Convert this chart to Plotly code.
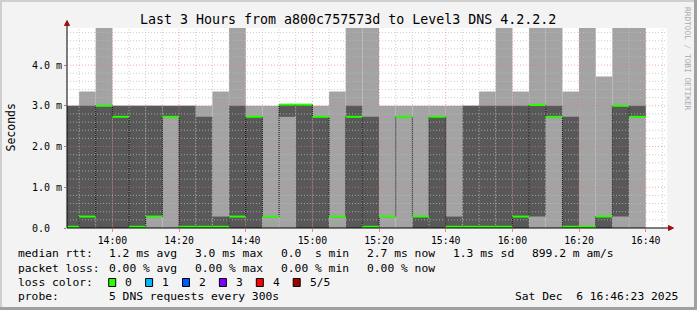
import pandas as pd
import plotly.graph_objects as go

DAY = "2025-12-06 "
X_START = DAY + "13:46:23"
X_END = DAY + "16:46:23"
Y_MAX = 4.91  # ms

# 5-minute sample slots (start times)
slot_start = ["13:45", "13:50", "13:55", "14:00", "14:05", "14:10", "14:15",
              "14:20", "14:25", "14:30", "14:35", "14:40", "14:45", "14:50",
              "14:55", "15:00", "15:05", "15:10", "15:15", "15:20", "15:25",
              "15:30", "15:35", "15:40", "15:45", "15:50", "15:55", "16:00",
              "16:05", "16:10", "16:15", "16:20", "16:25", "16:30", "16:35"]

# sorted ping rtts per slot (ms); 6.0 = beyond top of chart
ping1 = [0.0] * 35
ping2 = [0.0, 0.0, 0.0, 0.0, 0.0, 0.28, 2.73, 0.0, 0.0, 0.0, 0.0, 0.0, 0.28, 2.73,
         0.0, 0.0, 0.28, 0.0, 0.0, 0.28, 2.73, 0.0, 0.0, 0.0, 0.0, 0.0, 0.0, 0.0,
         0.28, 2.73, 0.0, 0.03, 0.0, 0.28, 2.73]
median = [0.03, 0.28, 3.0, 2.73, 0.03, 0.28, 2.73, 0.03, 0.03, 0.03, 0.28, 2.73,
          0.28, 3.03, 3.03, 2.73, 0.28, 2.73, 0.03, 0.28, 2.73, 0.28, 2.73, 0.03,
          0.03, 0.03, 0.03, 0.28, 3.02, 2.73, 0.03, 0.03, 0.28, 3.0, 2.73]
ping4 = [3.0, 3.0, 3.0, 3.0, 3.0, 3.0, 3.0, 3.0, 2.73, 0.28, 3.0, 2.73, 0.28, 3.03,
         3.03, 2.73, 0.28, 3.0, 2.73, 0.28, 2.73, 0.28, 2.73, 0.28, 3.0, 3.0, 3.0,
         3.0, 3.02, 3.0, 2.73, 0.03, 0.28, 3.0, 3.0]
ping5 = [3.0, 3.35, 6.0, 3.0, 3.0, 3.0, 3.0, 3.0, 3.0, 3.35, 6.0, 3.0, 3.0, 3.03,
         3.03, 3.0, 3.35, 6.0, 6.0, 3.0, 3.0, 3.0, 3.0, 3.0, 3.0, 3.35, 6.0, 3.35,
         6.0, 6.0, 3.35, 6.0, 3.72, 6.0, 6.0]

x_ticks = ["14:00", "14:20", "14:40", "15:00", "15:20", "15:40", "16:00", "16:20", "16:40"]
y_ticks = [0, 1, 2, 3, 4]
y_ticktext = ["0.0\u00a0\u00a0", "1.0 m", "2.0 m", "3.0 m", "4.0 m"]

title = "Last 3 Hours from a800c757573d to Level3 DNS 4.2.2.2"
rtt_stats = ["1.2 ms avg", "3.0 ms max", "0.0\u00a0\u00a0s min", "2.7 ms now",
             "1.3 ms sd", "899.2 m am/s"]
loss_stats = ["0.00 % avg", "0.00 % max", "0.00 % min", "0.00 % now"]
loss_labels = ["0", "1", "2", "3", "4", "5/5"]
loss_colors = ["#26ff00", "#00b8ff", "#0059ff", "#7e00ff", "#ff0000", "#a10000"]
probe_text = "5 DNS requests every 300s"
stamp_text = "Sat Dec\u00a0\u00a06 16:46:23 2025"

# ---------------------------------------------------------------
FONT = "DejaVu Sans Mono"
DARK = "#585858"
LIGHT = "#a3a3a3"
GREEN = loss_colors[0]

starts = pd.to_datetime([DAY + s for s in slot_start])
step = pd.Timedelta(minutes=5)
centers = starts + step / 2
ends = starts + step

fig = go.Figure()

fig.add_trace(go.Bar(x=centers, y=[b - a for a, b in zip(ping1, ping5)], base=ping1,
                     width=300000, marker=dict(color=LIGHT, line=dict(width=0)),
                     hoverinfo="skip"))
fig.add_trace(go.Bar(x=centers, y=[b - a for a, b in zip(ping2, ping4)], base=ping2,
                     width=300000, marker=dict(color=DARK, line=dict(width=0)),
                     hoverinfo="skip"))

# grid drawn over smoke
x0 = pd.Timestamp(X_START)
x1 = pd.Timestamp(X_END)
vmin_x, vmaj_x = [], []
t = pd.Timestamp(DAY + "13:50")
while t <= x1:
    target = vmaj_x if t.minute % 20 == 0 else vmin_x
    target += [t, t, None]
    t += step
vmin_y = [0, Y_MAX, None] * (len(vmin_x) // 3)
vmaj_y = [0, Y_MAX, None] * (len(vmaj_x) // 3)
hmin_x, hmin_y, hmaj_x, hmaj_y = [], [], [], []
for k in range(1, 25):
    v = k * 0.2
    if k % 5 == 0:
        hmaj_x += [x0, x1, None]; hmaj_y += [v, v, None]
    else:
        hmin_x += [x0, x1, None]; hmin_y += [v, v, None]
MINOR = "rgba(190,190,190,0.75)"
MAJOR = "rgba(255,110,110,0.6)"
for gx, gy, col in [(vmin_x, vmin_y, MINOR), (hmin_x, hmin_y, MINOR),
                    (vmaj_x, vmaj_y, MAJOR), (hmaj_x, hmaj_y, MAJOR)]:
    fig.add_trace(go.Scatter(x=gx, y=gy, mode="lines", hoverinfo="skip",
                             line=dict(color=col, width=1, dash="1px,2px")))

# median step connectors (black dotted) and green median segments
fig.add_trace(go.Scatter(x=list(starts) + [ends[-1]], y=median + [median[-1]],
                         mode="lines", line=dict(color="black", width=1, dash="1px,1px",
                                                 shape="hv"), hoverinfo="skip"))
mx, my = [], []
for s, e, m in zip(starts, ends, median):
    mx += [max(s, x0), e, None]
    my += [m, m, None]
fig.add_trace(go.Scatter(x=mx, y=my, mode="lines", line=dict(color=GREEN, width=2),
                         hoverinfo="skip"))

# ---------------------------------------------------------------
W, H = 697, 310
PX0, PW, PY0, PH = 67, 600, 28, 200


def fx(px):
    return (px - PX0) / PW


def fy(py):
    return (PY0 + PH - py) / PH


shapes = []
# frame
shapes.append(dict(type="rect", xref="paper", yref="paper", x0=fx(0), x1=fx(W), y0=fy(0),
                   y1=fy(2), fillcolor="#cfcfcf", line=dict(width=0), layer="below"))
shapes.append(dict(type="rect", xref="paper", yref="paper", x0=fx(0), x1=fx(2), y0=fy(0),
                   y1=fy(H), fillcolor="#cfcfcf", line=dict(width=0), layer="below"))
shapes.append(dict(type="rect", xref="paper", yref="paper", x0=fx(W - 3), x1=fx(W), y0=fy(0),
                   y1=fy(H), fillcolor="#a0a0a0", line=dict(width=0), layer="below"))
shapes.append(dict(type="rect", xref="paper", yref="paper", x0=fx(0), x1=fx(W), y0=fy(H - 3),
                   y1=fy(H), fillcolor="#a0a0a0", line=dict(width=0), layer="below"))
# axes lines + arrows
shapes.append(dict(type="line", xref="paper", yref="paper", x0=fx(67), x1=fx(670),
                   y0=fy(228), y1=fy(228), line=dict(color="black", width=1)))
shapes.append(dict(type="line", xref="paper", yref="paper", x0=fx(67), x1=fx(67),
                   y0=fy(228), y1=fy(23), line=dict(color="black", width=1)))
shapes.append(dict(type="path", xref="paper", yref="paper",
                   path=f"M {fx(64.5)} {fy(25.5)} L {fx(69.5)} {fy(25.5)} L {fx(67)} {fy(20.5)} Z",
                   fillcolor="#a01010", line=dict(color="#a01010", width=1)))
shapes.append(dict(type="path", xref="paper", yref="paper",
                   path=f"M {fx(668.5)} {fy(225.5)} L {fx(668.5)} {fy(230.5)} L {fx(673.5)} {fy(228)} Z",
                   fillcolor="#a01010", line=dict(color="#a01010", width=1)))

ann = []


def text(s, px, py, size=11.3, anchor="left", color="#000000", angle=0):
    ann.append(dict(text=s, x=fx(px), y=fy(py), xref="paper", yref="paper",
                    xanchor=anchor, yanchor="middle", showarrow=False, textangle=angle,
                    font=dict(family=FONT, size=size, color=color)))


text(title, 348, 19, size=13.3, anchor="center")
text("Seconds", 10.5, 128, size=11.5, anchor="center", angle=-90)
text("RRDTOOL / TOBI OETIKER", 688, 59, size=7.8, anchor="center", color="#aaaaaa", angle=90)

L1, L2, L3, L4 = 254, 268, 282, 296
text("median rtt:", 16, L1)
for s, px in zip(rtt_stats, [107, 193, 279, 365, 451, 530]):
    text(s, px, L1)
text("packet loss:", 16, L2)
for s, px in zip(loss_stats, [107, 193, 279, 365]):
    text(s, px, L2)
text("loss color:", 16, L3)
for i, (lab, col) in enumerate(zip(loss_labels, loss_colors)):
    bx = 108.7 + 36.9 * i
    shapes.append(dict(type="rect", xref="paper", yref="paper", x0=fx(bx), x1=fx(bx + 7),
                       y0=fy(286.5), y1=fy(278.5), fillcolor=col,
                       line=dict(color="black", width=1)))
    text(lab, bx + 14.3, L3)
text("probe:", 16, L4)
text(probe_text, 107, L4)
text(stamp_text, 513, L4)

fig.update_layout(
    width=W, height=H, autosize=False,
    margin=dict(l=PX0, r=W - PX0 - PW, t=PY0, b=H - PY0 - PH, pad=0),
    paper_bgcolor="#f3f3f3", plot_bgcolor="#ffffff",
    barmode="overlay", showlegend=False,
    shapes=shapes, annotations=ann,
    font=dict(family=FONT, color="#000000"),
    xaxis=dict(type="date", range=[X_START, X_END], showgrid=False, zeroline=False,
               tickvals=[DAY + s for s in x_ticks], ticktext=x_ticks,
               ticks="outside", ticklen=3, tickcolor="#ff8080",
               tickfont=dict(family=FONT, size=9.8, color="#000000"),
               showline=False, fixedrange=True),
    yaxis=dict(range=[0, Y_MAX], showgrid=False, zeroline=False,
               tickvals=y_ticks, ticktext=y_ticktext, ticks="outside", ticklen=2,
               tickcolor="#888888",
               tickfont=dict(family=FONT, size=10, color="#000000"),
               showline=False, fixedrange=True),
)

fig.write_html("out.html")
